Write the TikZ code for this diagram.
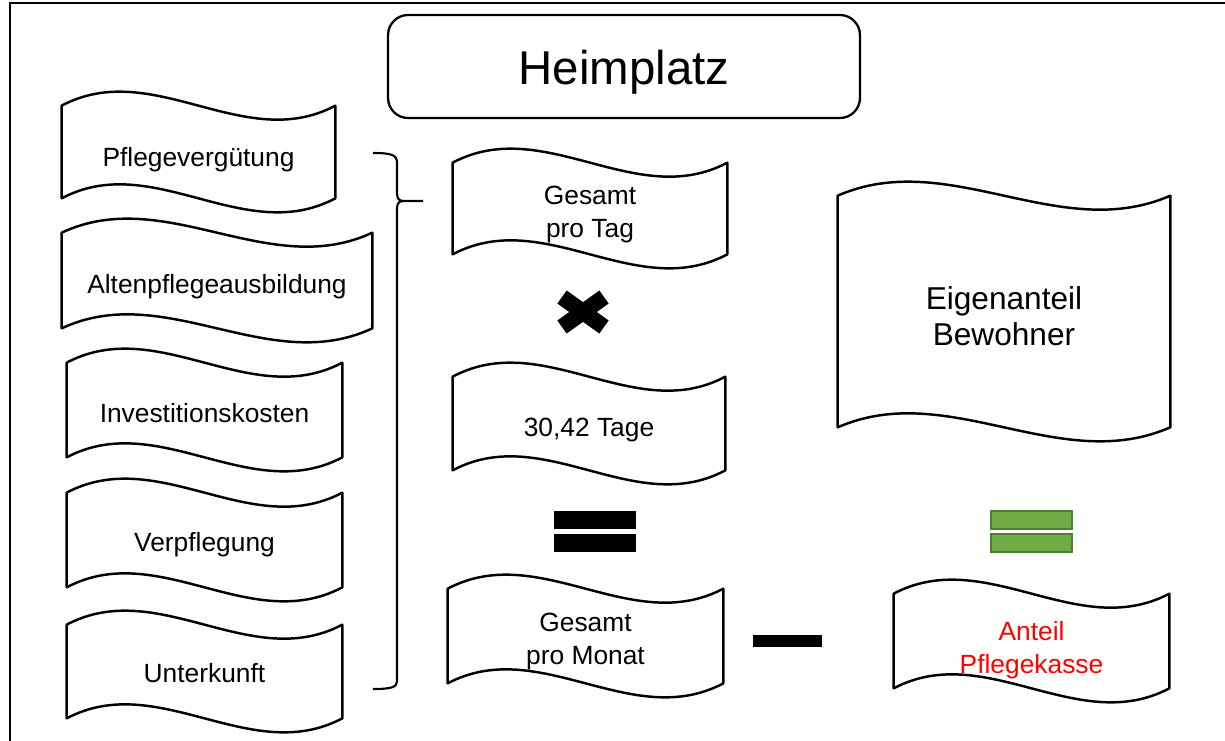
\documentclass[tikz,border=0pt]{standalone}
\usepackage{fontspec}
\setmainfont{Liberation Sans}
\usetikzlibrary{calc}

\definecolor{balkengruen}{HTML}{70AD47}
\definecolor{randgruen}{HTML}{507E32}

\newcommand{\hub}{0.97cm}
% welliger Rand um einen benannten Knoten
\newcommand{\welle}[1]{%
  \draw[wellenrand] (#1.north west)
    .. controls ($(#1.north west)!1/3!(#1.north east)+(0,\hub)$)
    and ($(#1.north west)!2/3!(#1.north east)-(0,\hub)$) .. (#1.north east)
    -- (#1.south east)
    .. controls ($(#1.south west)!2/3!(#1.south east)-(0,\hub)$)
    and ($(#1.south west)!1/3!(#1.south east)+(0,\hub)$) .. (#1.south west)
    -- cycle;}
% Text, etwas tiefer gesetzt
\newcommand{\zeile}[2][0.12cm]{\raisebox{0pt}[\dimexpr\height+#1*2\relax][\depth]{%
  \begin{tabular}{@{}c@{}}#2\end{tabular}}}

\tikzset{
  posten/.style={rectangle, inner sep=0pt,
    font=\fontsize{15}{18.7}\selectfont,
    minimum width=5.5cm, minimum height=1.88cm},
  wellenrand/.style={line width=1.4pt, line join=round},
  balken/.style={fill=black},
  gruenbalken/.style={fill=balkengruen, draw=randgruen, line width=1.5pt},
}

\begin{document}
\begin{tikzpicture}[x=0.02cm, y=-0.02cm]
        \useasboundingbox (0,0) rectangle (1225,741);
        \draw[line width=1.3pt] (10,741) -- (10,3) -- (1225,3);
        \node[draw, rounded corners=0.4cm, line width=1.3pt, minimum width=9.44cm, inner sep=0pt,
          minimum height=2.06cm, font=\fontsize{27}{32}\selectfont] (heim) at (624,66.5) {\zeile[0.14cm]{Heimplatz}};
        % linke Spalte
        \node[posten, minimum width=5.46cm, minimum height=1.84cm] (pflege) at (198.5,152) {\zeile[0.16cm]{Pflegevergütung}};
        \node[posten, minimum width=6.2cm, minimum height=1.9cm] (ausbildung) at (217,280.5) {\zeile{Altenpflegeausbildung}};
        \node[posten] (invest) at (204.5,410) {\zeile{Investitionskosten}};
        \node[posten] (verpflegung) at (204.5,540) {\zeile[0.1cm]{Verpflegung}};
        \node[posten, minimum height=1.86cm] (unterkunft) at (204.5,671.5) {\zeile[0.08cm]{Unterkunft}};
        % Klammer
        \draw[line width=1.2pt] (373,153) .. controls (392,153) and (397,155) .. (397,163)
          -- (397,193) .. controls (397,199) and (399,201) .. (404,201) -- (423,201);
        \draw[line width=1.2pt] (404,201) .. controls (399,201) and (397,203) .. (397,209)
          -- (397,681) .. controls (397,687) and (392,689) .. (373,689);
        % mittlere Spalte
        \node[posten, minimum width=5.48cm, minimum height=1.82cm] (tag) at (590,208.5) {\zeile[0.11cm]{Gesamt\\pro Tag}};
        \draw[line width=0.32cm] (562,297) -- (604,327);
        \draw[line width=0.32cm] (604,297) -- (562,327);
        \node[posten, minimum width=5.44cm, minimum height=1.86cm] (tage) at (589,423.5) {\zeile{30,42 Tage}};
        \fill[balken] (554,511) rectangle (636,529);
        \fill[balken] (554,534) rectangle (636,552);
        \node[posten] (monat) at (585.5,636) {\zeile[0.1cm]{Gesamt\\pro Monat}};
        \fill[balken] (753,635) rectangle (822,647);
        % rechte Spalte
        \node[posten, minimum width=6.64cm, minimum height=4.62cm,
          font=\fontsize{18}{20}\selectfont] (eigen) at (1004,311.5) {\zeile[0.18cm]{Eigenanteil\\Bewohner}};
        \draw[gruenbalken] (991,511) rectangle (1072,529);
        \draw[gruenbalken] (991,534) rectangle (1072,552);
        \node[posten, text=red] (kasse) at (1031.5,641) {\zeile[0.18cm]{Anteil\\Pflegekasse}};
        % Raender
        \foreach \n in {pflege,ausbildung,invest,verpflegung,unterkunft,tag,tage,monat,eigen,kasse}
          \welle{\n};
\end{tikzpicture}
\end{document}
